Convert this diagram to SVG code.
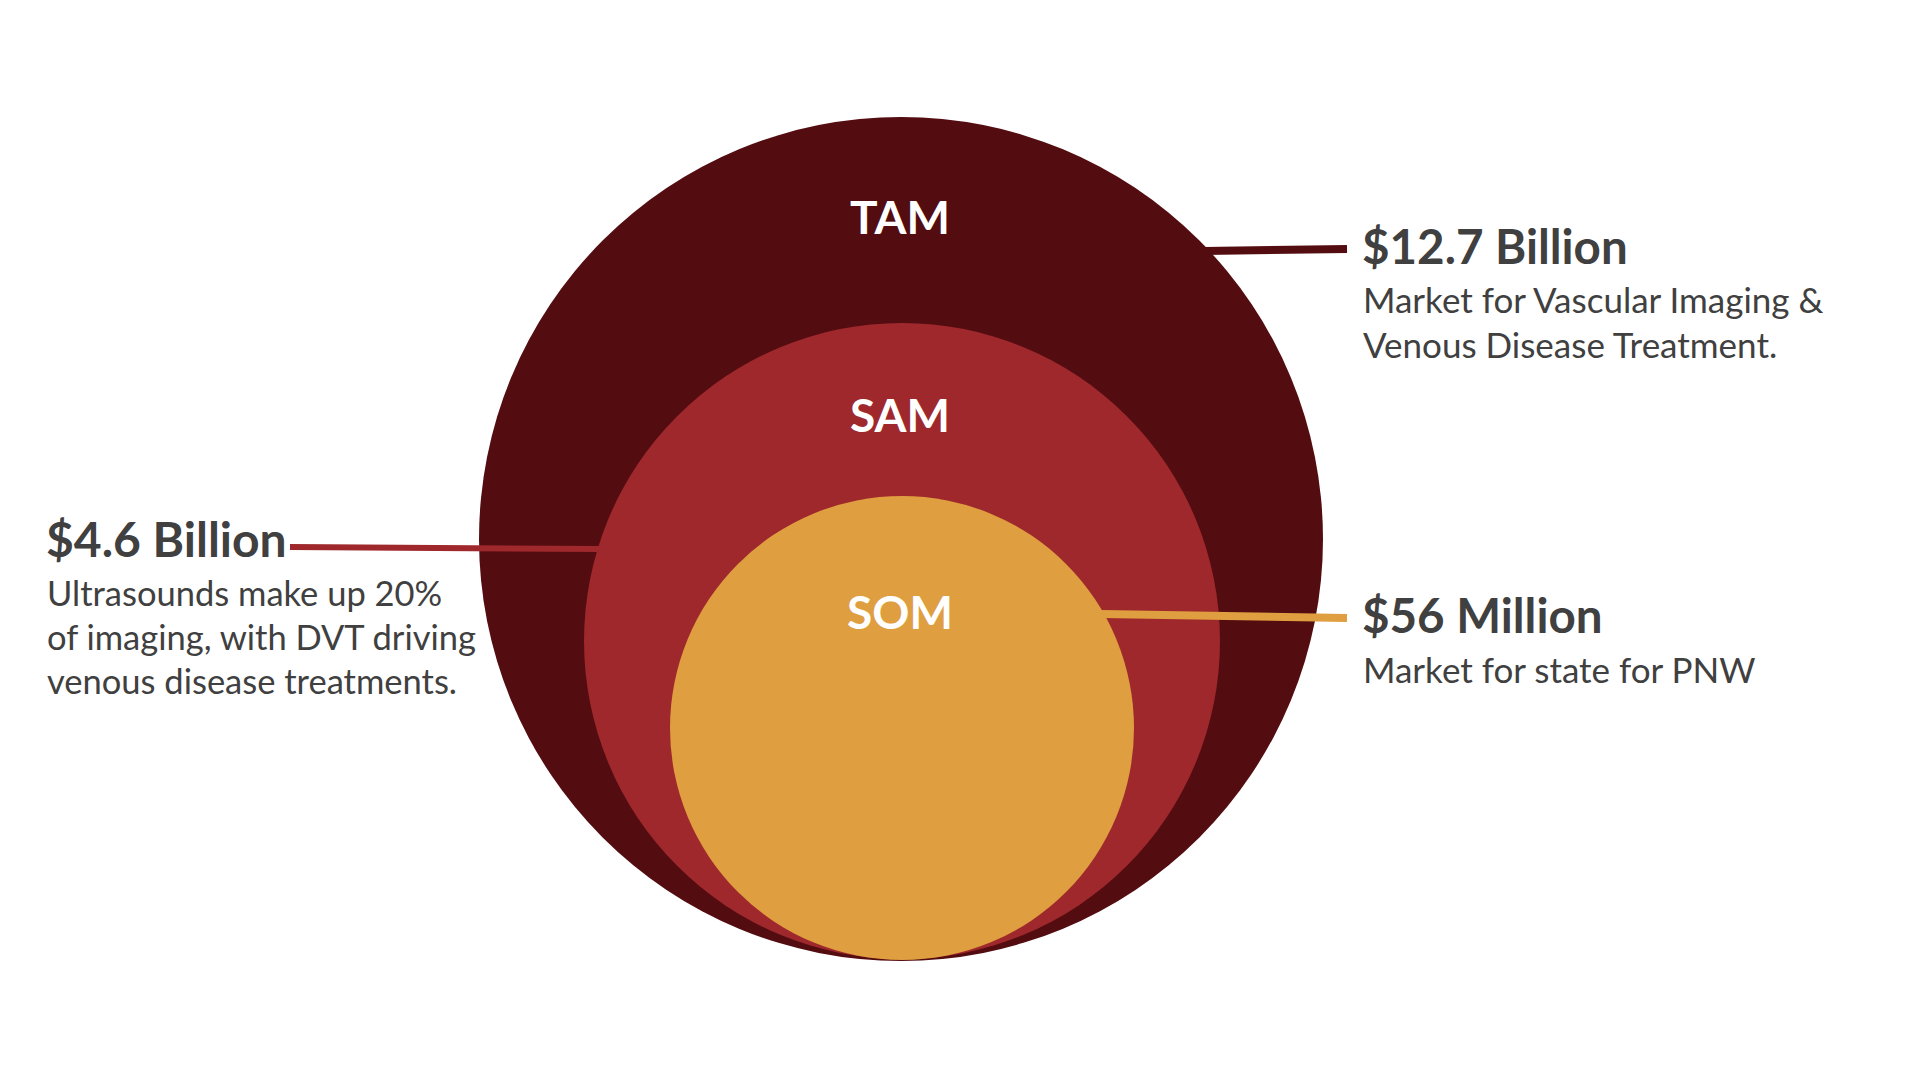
<svg xmlns="http://www.w3.org/2000/svg" width="1920" height="1080" viewBox="0 0 1920 1080">
<style>
.circ-label{font-family:Lato,"Liberation Sans",sans-serif;font-weight:700;font-size:46px;fill:#FFFFFF;text-anchor:middle}
.head{font-family:Lato,"Liberation Sans",sans-serif;font-weight:700;font-size:47.5px;fill:#404040}
.body{font-family:Lato,"Liberation Sans",sans-serif;font-weight:400;font-size:35px;fill:#404040}
.conn{fill:none;stroke-linecap:butt}
</style>
<rect x="0" y="0" width="1920" height="1080" fill="#FFFFFF"/>
<g id="tam">
<circle cx="901" cy="539" r="422" fill="#530C10"/>
<text class="circ-label" x="900" y="234">TAM</text>
</g>
<g id="sam">
<circle cx="902" cy="641" r="318" fill="#9E282C"/>
<text class="circ-label" x="900" y="432">SAM</text>
</g>
<g id="som">
<circle cx="902" cy="728" r="232" fill="#DF9E3F"/>
<text class="circ-label" x="900" y="629">SOM</text>
</g>
<g id="connectors">
<line class="conn" x1="1204" y1="251" x2="1347" y2="249" stroke="#530C10" stroke-width="8"/>
<line class="conn" x1="290" y1="547" x2="599" y2="549" stroke="#9E282C" stroke-width="6"/>
<line class="conn" x1="1102" y1="614" x2="1347" y2="618" stroke="#DF9E3F" stroke-width="8"/>
</g>
<g id="label-tam">
<text class="head" x="1362" y="264">$12.7 Billion</text>
<text class="body" x="1363" y="313">Market for Vascular Imaging &amp;</text>
<text class="body" x="1363" y="358">Venous Disease Treatment.</text>
</g>
<g id="label-sam">
<text class="head" x="46" y="557" style="font-size:48px">$4.6 Billion</text>
<text class="body" x="47" y="606" style="font-size:34.5px">Ultrasounds make up 20%</text>
<text class="body" x="47" y="650" style="font-size:34.5px">of imaging, with DVT driving</text>
<text class="body" x="47" y="694" style="font-size:34.5px">venous disease treatments.</text>
</g>
<g id="label-som">
<text class="head" x="1362" y="633">$56 Million</text>
<text class="body" x="1363" y="683">Market for state for PNW</text>
</g>
</svg>
